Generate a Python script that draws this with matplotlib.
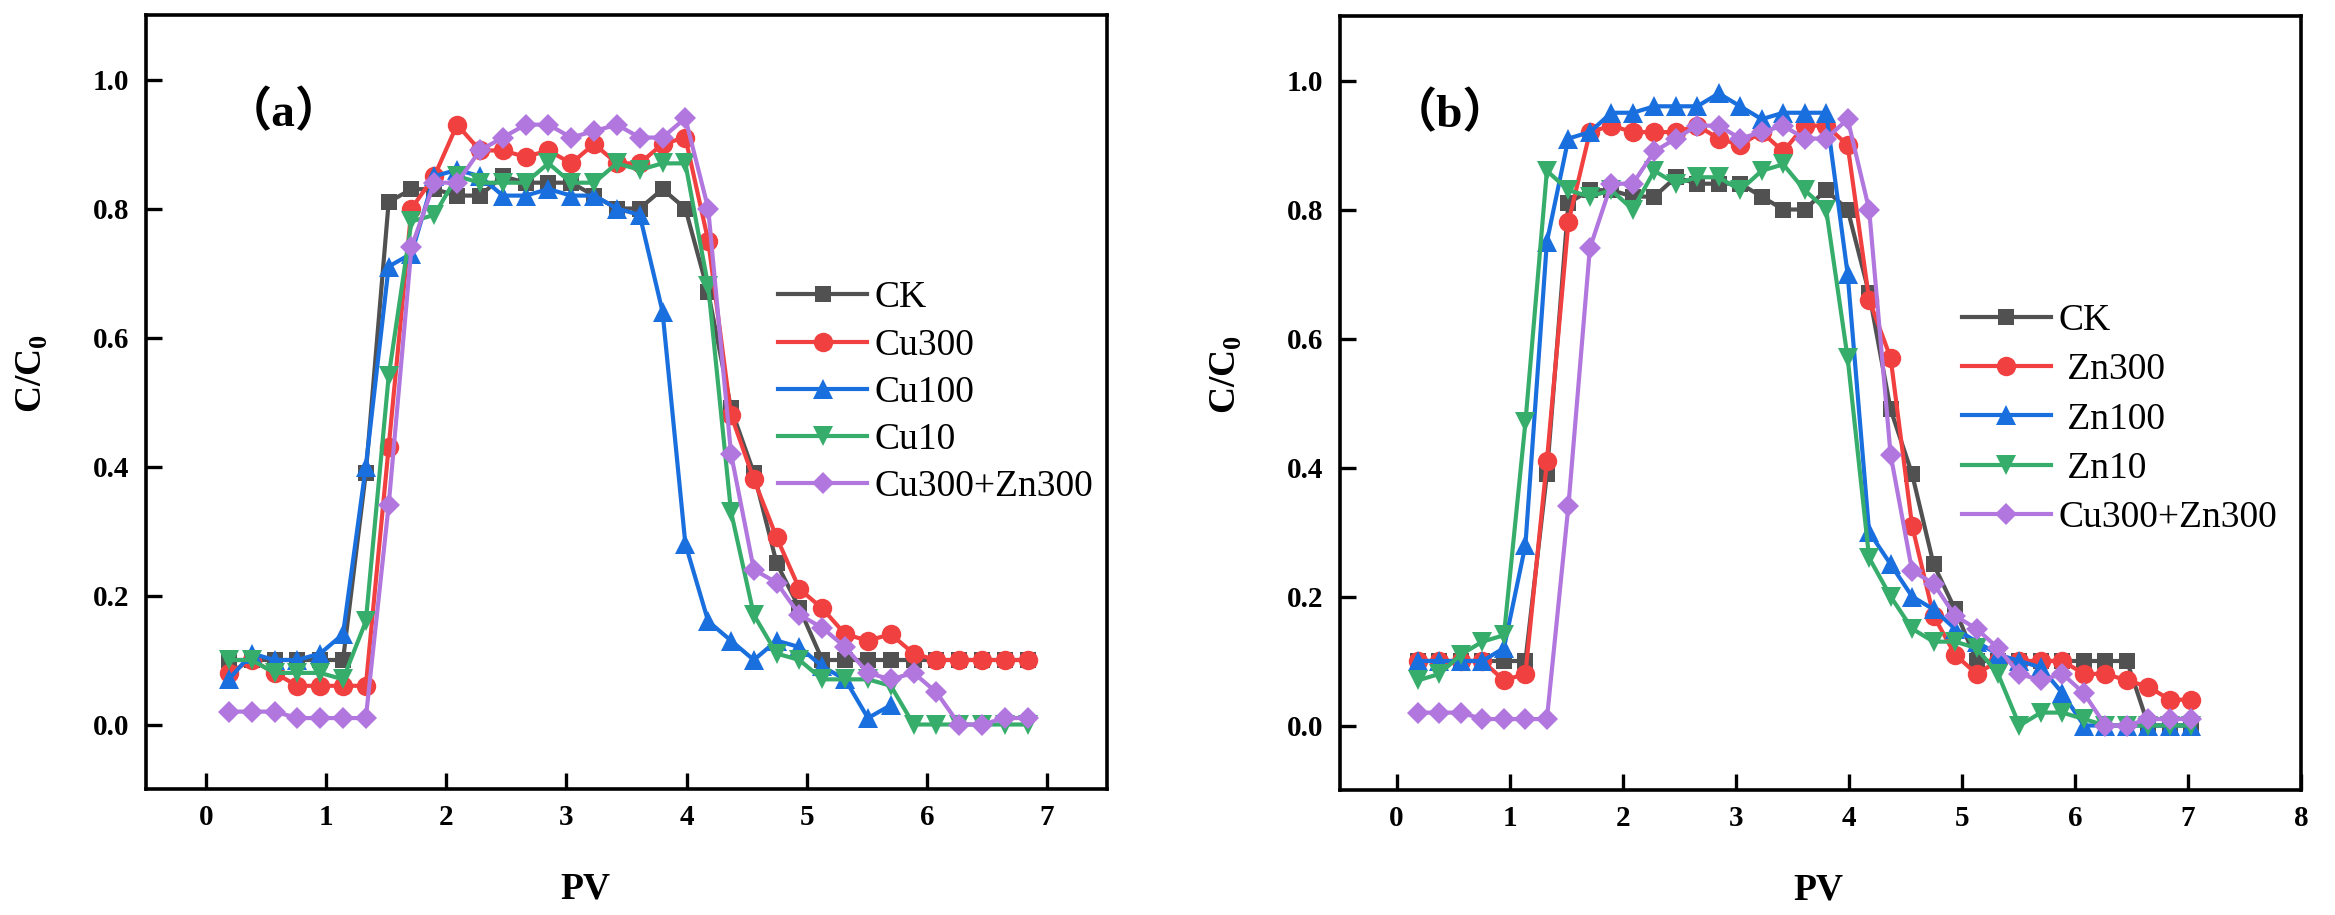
import matplotlib
matplotlib.use('Agg')
import matplotlib.pyplot as plt

plt.rcParams['font.family'] = ['Liberation Serif', 'Noto Sans CJK SC', 'DejaVu Sans']
plt.rcParams['mathtext.fontset'] = 'custom'
plt.rcParams['mathtext.rm'] = 'Liberation Serif'
plt.rcParams['mathtext.bf'] = 'Liberation Serif:bold'

# ---------------- data ----------------
pv = [0.19, 0.38, 0.57, 0.76, 0.95, 1.14, 1.33, 1.52, 1.71, 1.90, 2.09, 2.28,
      2.47, 2.66, 2.85, 3.04, 3.23, 3.42, 3.61, 3.80, 3.99, 4.18, 4.37, 4.56,
      4.75, 4.94, 5.13, 5.32, 5.51, 5.70, 5.89, 6.08, 6.27, 6.46, 6.65, 6.84, 7.03]

# panel (a)
ck_a = [0.10, 0.10, 0.10, 0.10, 0.10, 0.10, 0.39, 0.81, 0.83, 0.83, 0.82, 0.82,
        0.85, 0.84, 0.84, 0.84, 0.82, 0.80, 0.80, 0.83, 0.80, 0.67, 0.49, 0.39,
        0.25, 0.18, 0.10, 0.10, 0.10, 0.10, 0.10, 0.10, 0.10, 0.10, 0.10, 0.10]
cu300 = [0.08, 0.10, 0.08, 0.06, 0.06, 0.06, 0.06, 0.43, 0.80, 0.85, 0.93, 0.89,
         0.89, 0.88, 0.89, 0.87, 0.90, 0.87, 0.87, 0.90, 0.91, 0.75, 0.48, 0.38,
         0.29, 0.21, 0.18, 0.14, 0.13, 0.14, 0.11, 0.10, 0.10, 0.10, 0.10, 0.10]
cu100 = [0.07, 0.11, 0.10, 0.10, 0.11, 0.14, 0.40, 0.71, 0.73, 0.85, 0.86, 0.85,
         0.82, 0.82, 0.83, 0.82, 0.82, 0.80, 0.79, 0.64, 0.28, 0.16, 0.13, 0.10,
         0.13, 0.12, 0.09, 0.07, 0.01, 0.03]
cu10 = [0.10, 0.10, 0.08, 0.08, 0.08, 0.07, 0.16, 0.54, 0.78, 0.79, 0.85, 0.84,
        0.84, 0.84, 0.87, 0.84, 0.84, 0.87, 0.86, 0.87, 0.87, 0.68, 0.33, 0.17,
        0.11, 0.10, 0.07, 0.07, 0.07, 0.06, 0.00, 0.00, 0.00, 0.00, 0.00, 0.00]
cuzn_a = [0.02, 0.02, 0.02, 0.01, 0.01, 0.01, 0.01, 0.34, 0.74, 0.84, 0.84, 0.89,
          0.91, 0.93, 0.93, 0.91, 0.92, 0.93, 0.91, 0.91, 0.94, 0.80, 0.42, 0.24,
          0.22, 0.17, 0.15, 0.12, 0.08, 0.07, 0.08, 0.05, 0.00, 0.00, 0.01, 0.01]

# panel (b)
ck_b = [0.10, 0.10, 0.10, 0.10, 0.10, 0.10, 0.39, 0.81, 0.83, 0.83, 0.82, 0.82,
        0.85, 0.84, 0.84, 0.84, 0.82, 0.80, 0.80, 0.83, 0.80, 0.67, 0.49, 0.39,
        0.25, 0.18, 0.10, 0.10, 0.10, 0.10, 0.10, 0.10, 0.10, 0.10, 0.00, 0.00, 0.00]
zn300 = [0.10, 0.10, 0.10, 0.10, 0.07, 0.08, 0.41, 0.78, 0.92, 0.93, 0.92, 0.92,
         0.92, 0.93, 0.91, 0.90, 0.92, 0.89, 0.93, 0.93, 0.90, 0.66, 0.57, 0.31,
         0.17, 0.11, 0.08, 0.10, 0.10, 0.10, 0.10, 0.08, 0.08, 0.07, 0.06, 0.04, 0.04]
zn100 = [0.10, 0.10, 0.10, 0.10, 0.12, 0.28, 0.75, 0.91, 0.92, 0.95, 0.95, 0.96,
         0.96, 0.96, 0.98, 0.96, 0.94, 0.95, 0.95, 0.95, 0.70, 0.30, 0.25, 0.20,
         0.18, 0.15, 0.13, 0.11, 0.10, 0.09, 0.05, 0.00, 0.00, 0.00, 0.00, 0.00, 0.00]
zn10 = [0.07, 0.08, 0.11, 0.13, 0.14, 0.47, 0.86, 0.83, 0.82, 0.83, 0.80, 0.86,
        0.84, 0.85, 0.85, 0.83, 0.86, 0.87, 0.83, 0.80, 0.57, 0.26, 0.20, 0.15,
        0.13, 0.13, 0.12, 0.08, 0.00, 0.02, 0.02, 0.01, 0.00, 0.00, 0.00, 0.00, 0.00]
cuzn_b = [0.02, 0.02, 0.02, 0.01, 0.01, 0.01, 0.01, 0.34, 0.74, 0.84, 0.84, 0.89,
          0.91, 0.93, 0.93, 0.91, 0.92, 0.93, 0.91, 0.91, 0.94, 0.80, 0.42, 0.24,
          0.22, 0.17, 0.15, 0.12, 0.08, 0.07, 0.08, 0.05, 0.00, 0.00, 0.01, 0.01, 0.01]

labels_a = ['CK', 'Cu300', 'Cu100', 'Cu10', 'Cu300+Zn300']
labels_b = ['CK', ' Zn300', ' Zn100', ' Zn10', 'Cu300+Zn300']
xticks_a = [0, 1, 2, 3, 4, 5, 6, 7]
xticks_b = [0, 1, 2, 3, 4, 5, 6, 7, 8]
yticks = [0.0, 0.2, 0.4, 0.6, 0.8, 1.0]

# ---------------- style ----------------
colors = ['#515151', '#F14040', '#1A6FDF', '#37AD6B', '#B177DE']
markers = ['s', 'o', '^', 'v', 'D']
msizes = [12, 14, 15, 15, 11.5]
LW = 3.0

W, H = 2335, 915
fig = plt.figure(figsize=(W / 100, H / 100), dpi=100)
ax_a = fig.add_axes([146 / W, 1 - 789 / H, 961 / W, 774 / H])
ax_b = fig.add_axes([1340 / W, 1 - 790 / H, 961 / W, 774 / H])


def style(ax, xlim, xticks):
    ax.set_xlim(*xlim)
    ax.set_ylim(-0.1, 1.1)
    ax.set_xticks(xticks)
    ax.set_yticks(yticks)
    ax.set_yticklabels(['%.1f' % v for v in yticks])
    for s in ax.spines.values():
        s.set_linewidth(2.6)
    ax.tick_params(direction='in', length=11.5, width=2.4, top=False, right=False,
                   labelsize=21)
    ax.tick_params(axis='x', pad=11)
    ax.tick_params(axis='y', pad=12)
    for lab in ax.get_xticklabels() + ax.get_yticklabels():
        lab.set_fontweight('bold')
    ax.set_xlabel('PV', fontsize=27, fontweight='bold')
    ax.set_ylabel(r'$\mathbf{C/C}_{\mathbf{0}}$', fontsize=27)
    ax.xaxis.label.set_va('center')


def draw(ax, series, labels, anchor, spacing):
    for ys, lab, c, m, ms in zip(series, labels, colors, markers, msizes):
        ax.plot(pv[:len(ys)], ys, color=c, marker=m, markersize=ms, lw=LW,
                markeredgewidth=0, label=lab)
    ax.legend(loc='center left', bbox_to_anchor=anchor, frameon=False,
              fontsize=27, handlelength=2.37, handletextpad=0.2,
              labelspacing=spacing, borderpad=0, borderaxespad=0)


style(ax_a, (-0.5, 7.5), xticks_a)
draw(ax_a, [ck_a, cu300, cu100, cu10, cuzn_a], labels_a, (0.658, 0.512), 0.34)
ax_a.xaxis.set_label_coords(0.457, -0.129)
ax_a.yaxis.set_label_coords(-0.10, 0.537)
ax_a.text(0.082, 0.873, '（a）', transform=ax_a.transAxes, fontsize=34,
          fontweight='bold', ha='left', va='center')

style(ax_b, (-0.5, 8.0), xticks_b)
draw(ax_b, [ck_b, zn300, zn100, zn10, cuzn_b], labels_b, (0.647, 0.479), 0.39)
ax_b.xaxis.set_label_coords(0.498, -0.129)
ax_b.yaxis.set_label_coords(-0.10, 0.537)
ax_b.text(0.052, 0.872, '（b）', transform=ax_b.transAxes, fontsize=34,
          fontweight='bold', ha='left', va='center')

fig.savefig('out.png', dpi=100)
